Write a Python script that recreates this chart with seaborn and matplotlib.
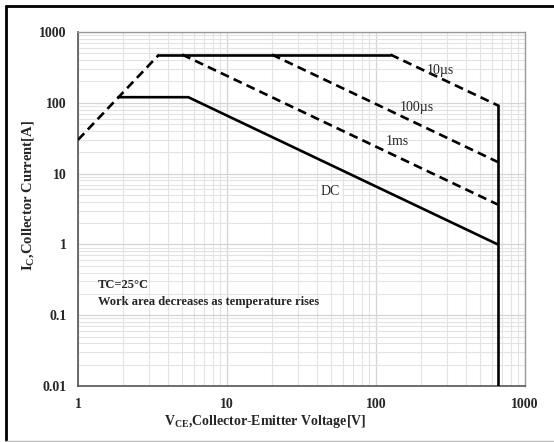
import matplotlib
matplotlib.use("Agg")
import matplotlib.pyplot as plt
import seaborn as sns
import pandas as pd
from matplotlib.lines import Line2D
from matplotlib.ticker import LogLocator, FixedLocator, FixedFormatter, NullFormatter

# safe operating area
rise_v = [1, 3.5]
rise_i = [30, 480]
flat_v = [3.5, 125]
flat_i = [480, 480]
us10_v = [125, 656]
us10_i = [480, 92]
us100_v = [20, 656]
us100_i = [480, 14.6]
ms1_v = [5, 656]
ms1_i = [480, 3.66]
dc_v = [1.87, 5.5, 656]
dc_i = [120, 120, 1.0]
lim_v = [656, 656]
lim_i = [92, 0.01]

x_ticks = [1, 10, 100, 1000]
x_labels = ["1", "10", "100", "1000"]
y_ticks = [0.01, 0.1, 1, 10, 100, 1000]
y_labels = ["0.01", "0.1", "1", "10", "100", "1000"]

sns.set_style("white")
plt.rcParams['font.family'] = ['Liberation Serif', 'DejaVu Serif']

fig = plt.figure(figsize=(5.54, 4.42), dpi=100)
ax = fig.add_axes([78/554, 1-386/442, (525-78)/554, (386-32)/442])

dash = (0, (3.4, 2.0))
segs = [
    (rise_v, rise_i, dash),
    (flat_v, flat_i, '-'),
    (us10_v, us10_i, dash),
    (us100_v, us100_i, dash),
    (ms1_v, ms1_i, dash),
    (dc_v, dc_i, '-'),
    (lim_v, lim_i, '-'),
]
for v, i, ls in segs:
    df = pd.DataFrame({"V": v, "I": i})
    sns.lineplot(data=df, x="V", y="I", sort=False, estimator=None,
                 color="black", lw=1.9, linestyle=ls, ax=ax, zorder=3)

ax.set_xscale("log")
ax.set_yscale("log")
ax.set_xlim(1, 1000)
ax.set_ylim(0.01, 1000)

ax.xaxis.set_major_locator(FixedLocator(x_ticks))
ax.xaxis.set_major_formatter(FixedFormatter(x_labels))
ax.yaxis.set_major_locator(FixedLocator(y_ticks))
ax.yaxis.set_major_formatter(FixedFormatter(y_labels))
ax.xaxis.set_minor_locator(LogLocator(base=10, subs=range(2, 10)))
ax.yaxis.set_minor_locator(LogLocator(base=10, subs=range(2, 10)))
ax.xaxis.set_minor_formatter(NullFormatter())
ax.yaxis.set_minor_formatter(NullFormatter())

ax.grid(which="major", color="#d4d4d4", lw=0.9, zorder=0)
ax.grid(which="minor", color="#e3e3e3", lw=0.8, zorder=0)
ax.tick_params(which="both", length=0)
ax.tick_params(axis="x", pad=9, labelsize=10)
ax.tick_params(axis="y", pad=8, labelsize=10)
for lab in ax.get_xticklabels() + ax.get_yticklabels():
    lab.set_fontweight("bold")

for side in ["left", "bottom"]:
    ax.spines[side].set_color("#555555")
    ax.spines[side].set_linewidth(1.2)
for side in ["top", "right"]:
    ax.spines[side].set_color("#999999")
    ax.spines[side].set_linewidth(1.0)

ax.set_xlabel(r"V$_{\mathregular{CE}}$,Collector-Emitter Voltage[V]",
              fontsize=10, fontweight="bold")
ax.set_ylabel(r"I$_{\mathregular{C}}$,Collector Current[A]",
              fontsize=10.5, fontweight="bold")
ax.xaxis.set_label_coords(0.418, -0.077)
ax.yaxis.set_label_coords(-0.092, 0.537)

box = dict(facecolor="white", edgecolor="none", pad=1.5)
ax.text(270, 290, "10µs", fontsize=10, ha="center", va="center", zorder=4)
ax.text(188, 87, "100µs", fontsize=10, ha="center", va="center", zorder=4)
ax.text(138, 28, "1ms", fontsize=10, ha="center", va="center", zorder=4)
ax.text(49, 5.5, "DC", fontsize=10, ha="center", va="center", bbox=box, zorder=4)

ax.text(0.045, 0.285, "TC=25°C", transform=ax.transAxes, fontsize=9,
        fontweight="bold", va="center")
ax.text(0.045, 0.237, "Work area decreases as temperature rises",
        transform=ax.transAxes, fontsize=9, fontweight="bold", va="center")

# outer frame of the chart area
fig.add_artist(Line2D([6/554, 6/554], [2/442, 1-6/442], color="black", lw=2))
fig.add_artist(Line2D([6/554, 1], [1-6/442, 1-6/442], color="black", lw=2))
fig.add_artist(Line2D([6/554, 1], [1/442, 1/442], color="#bbbbbb", lw=1))

fig.savefig("out.png", dpi=100)
